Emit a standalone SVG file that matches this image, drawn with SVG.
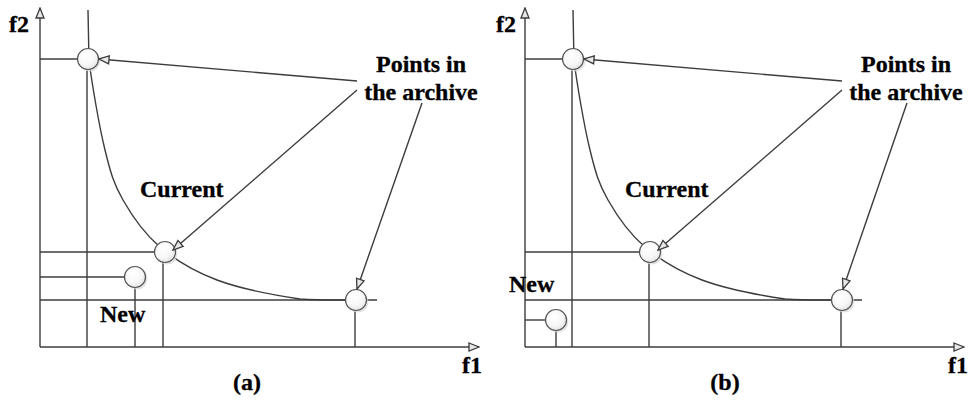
<svg xmlns="http://www.w3.org/2000/svg" width="969" height="400" viewBox="0 0 969 400">
<style>
.ln{stroke:#3c3c3c;stroke-width:1.4;fill:none}
.ax{stroke:#3c3c3c;stroke-width:1.4;fill:none;marker-end:url(#ah)}
.ar{stroke:#3c3c3c;stroke-width:1.4;fill:none;marker-end:url(#ah)}
.pt{fill:url(#g);stroke:#555;stroke-width:1.2}
.sh{fill:#d8d8d8;opacity:0.7}
.t{font-weight:bold;font-size:24px;fill:#000;stroke:#000;stroke-width:0.3}
</style>
<defs>
<radialGradient id="g" cx="0.4" cy="0.35" r="0.7">
<stop offset="0" stop-color="#ffffff"/>
<stop offset="0.6" stop-color="#f7f7f7"/>
<stop offset="1" stop-color="#e2e2e2"/>
</radialGradient>
<marker id="ah" viewBox="0 0 12 10" refX="11" refY="5" markerWidth="12" markerHeight="10" markerUnits="userSpaceOnUse" orient="auto">
<path d="M1,1 L11,5 L1,9 Z" fill="#e8e8e8" stroke="#3c3c3c" stroke-width="1.3"/>
</marker>
<path id="curve" d="M88,10 C88.2,18.3 88.5,40 89,60 C91.8,83.3 99.3,126.7 105,150 C110.7,173.3 113.8,183.8 123,200 C132.2,216.2 144.3,233.7 160,247 C175.7,260.3 193.7,271.3 217,280 C240.3,288.7 277.8,295.7 300,299 C322,300.5 341.7,300 352,300"/>
</defs>

<g id="panel-a">
<g id="grid-a">
<line class="ln" x1="40" y1="59" x2="80" y2="59"/>
<line class="ln" x1="40" y1="252" x2="155" y2="252"/>
<line class="ln" x1="40" y1="277" x2="125" y2="277"/>
<line class="ln" x1="40" y1="300" x2="377" y2="300"/>
<line class="ln" x1="87" y1="65" x2="87" y2="347"/>
<line class="ln" x1="163" y1="260" x2="163" y2="347"/>
<line class="ln" x1="135" y1="285" x2="135" y2="347"/>
<line class="ln" x1="355" y1="308" x2="355" y2="347"/>
<line class="ax" x1="40" y1="347" x2="40" y2="8"/>
<line class="ax" x1="40" y1="347" x2="479" y2="347"/>
<use href="#curve" class="ln"/>
</g>
<g id="a-top"><circle class="sh" cx="90" cy="61" r="10.5"/><circle class="pt" cx="88" cy="59" r="10.5"/></g>
<g id="a-current"><circle class="sh" cx="167" cy="254" r="10.5"/><circle class="pt" cx="165" cy="252" r="10.5"/></g>
<g id="a-new"><circle class="sh" cx="137" cy="279" r="10.5"/><circle class="pt" cx="135" cy="277" r="10.5"/></g>
<g id="a-right"><circle class="sh" cx="358" cy="302" r="10.5"/><circle class="pt" cx="356" cy="300" r="10.5"/></g>
<g id="a-labels" font-family="'Liberation Serif', 'DejaVu Serif', serif">
<text class="t" x="9" y="32">f2</text>
<text class="t" x="462" y="373">f1</text>
<text class="t" x="140" y="197">Current</text>
<text class="t" x="100" y="322">New</text>
<text class="t" x="421" y="72" text-anchor="middle">Points in</text>
<text class="t" x="421" y="100" text-anchor="middle">the archive</text>
<text class="t" x="247" y="390" text-anchor="middle">(a)</text>
</g>
</g>

<g id="panel-b">
<g id="grid-b">
<line class="ln" x1="525" y1="59" x2="563" y2="59"/>
<line class="ln" x1="525" y1="252" x2="640" y2="252"/>
<line class="ln" x1="525" y1="300" x2="862" y2="300"/>
<line class="ln" x1="525" y1="320" x2="546" y2="320"/>
<line class="ln" x1="572" y1="65" x2="572" y2="347"/>
<line class="ln" x1="649" y1="260" x2="649" y2="347"/>
<line class="ln" x1="556" y1="328" x2="556" y2="347"/>
<line class="ln" x1="841" y1="308" x2="841" y2="347"/>
<line class="ax" x1="525" y1="347" x2="525" y2="8"/>
<line class="ax" x1="525" y1="347" x2="964" y2="347"/>
<use href="#curve" class="ln" transform="translate(485,0)"/>
</g>
<g id="b-top"><circle class="sh" cx="575" cy="61" r="10.5"/><circle class="pt" cx="573" cy="59" r="10.5"/></g>
<g id="b-current"><circle class="sh" cx="652" cy="254" r="10.5"/><circle class="pt" cx="650" cy="252" r="10.5"/></g>
<g id="b-new"><circle class="sh" cx="558" cy="322" r="10.5"/><circle class="pt" cx="556" cy="320" r="10.5"/></g>
<g id="b-right"><circle class="sh" cx="844" cy="302" r="10.5"/><circle class="pt" cx="842" cy="300" r="10.5"/></g>
<g id="b-labels" font-family="'Liberation Serif', 'DejaVu Serif', serif">
<text class="t" x="496" y="32">f2</text>
<text class="t" x="948" y="373">f1</text>
<text class="t" x="625" y="197">Current</text>
<text class="t" x="509" y="292">New</text>
<text class="t" x="906" y="72" text-anchor="middle">Points in</text>
<text class="t" x="906" y="100" text-anchor="middle">the archive</text>
<text class="t" x="725" y="390" text-anchor="middle">(b)</text>
</g>
</g>

<g id="connectors">
<line class="ar" x1="357" y1="81" x2="99" y2="59"/>
<line class="ar" x1="357" y1="90" x2="173" y2="250"/>
<line class="ar" x1="422" y1="103" x2="357" y2="289"/>
<line class="ar" x1="842" y1="81" x2="584" y2="59"/>
<line class="ar" x1="842" y1="90" x2="658" y2="250"/>
<line class="ar" x1="907" y1="103" x2="843" y2="289"/>
</g>
</svg>
